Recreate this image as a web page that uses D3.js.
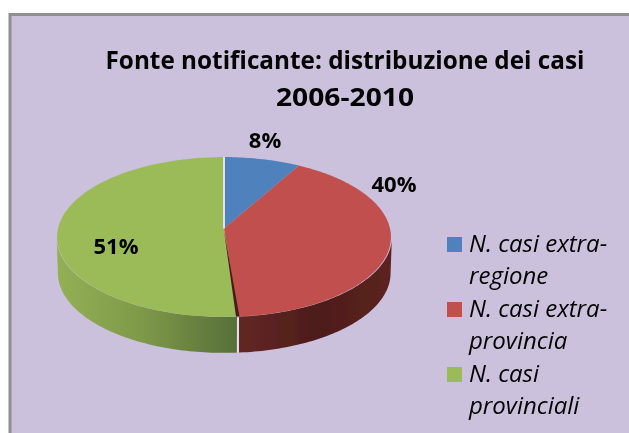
<!DOCTYPE html>
<html><head><meta charset="utf-8">
<script src="https://cdn.jsdelivr.net/npm/d3@7"></script>
<style>html,body{margin:0;padding:0;background:#fff}svg{display:block}</style>
</head><body><script>
const categories=["N. casi extra-regione","N. casi extra-provincia","N. casi provinciali"];
const values=[8.2,40.6,51.2];
const valueLabels=["8%","40%","51%"];
const topColors=["#4f81bd","#c0504d","#9bbb59"];
const legendLines=[["N. casi extra-","regione"],["N. casi extra-","provincia"],["N. casi","provinciali"]];
const titleLines=["Fonte notificante: distribuzione dei casi","2006-2010"];

const W=629,H=433;
const svg=d3.select("body").append("svg").attr("width",W).attr("height",H);
const defs=svg.append("defs");
defs.append("filter").attr("id","soft").append("feGaussianBlur").attr("stdDeviation",0.5);
const grad=(id,stops)=>{const g=defs.append("linearGradient").attr("id",id).attr("gradientUnits","userSpaceOnUse")
  .attr("x1",56).attr("x2",390).attr("y1",0).attr("y2",0);
  stops.forEach(s=>g.append("stop").attr("offset",s[0]).attr("stop-color",s[1]));};
grad("gGreen",[[0,"#94b055"],[0.25,"#7f9a49"],[0.54,"#57703a"],[1,"#57703a"]]);
grad("gRed",[[0.54,"#642725"],[0.78,"#4e1d1b"],[1,"#5c2220"]]);

svg.append("rect").attr("x",10).attr("y",14.5).attr("width",W).attr("height",H)
  .attr("fill","#cbc1dc").attr("stroke","#8f8f8f").attr("stroke-width",3);

const F='"Open Sans",sans-serif';
const g=svg.append("g").attr("filter","url(#soft)");

g.selectAll(".t").data(titleLines).join("text").attr("class","t")
  .attr("x",345).attr("y",(d,i)=>69+i*37).attr("text-anchor","middle")
  .attr("font-family",F).attr("font-weight",700).attr("font-size",25)
  .attr("textLength",(d,i)=>i?138:479).attr("lengthAdjust","spacingAndGlyphs")
  .attr("fill","#000").text(d=>d);

// tilted disc: perspective projection of the unit circle
const cx=224,cy=228.5,rx=166,ry=79,persp=0.106,depth=36,shrink=0.992;
const proj=(a,r=1)=>{const u=r*Math.sin(a),v=-r*Math.cos(a),w=1-persp*v;
  return [cx+rx*u/w,cy+ry*v/w];};
const low=p=>[cx+(p[0]-cx)*shrink,p[1]+depth];
const line=d3.line();
const samples=(a0,a1)=>d3.range(a0,a1,0.02).concat([a1]);
const arcs=d3.pie().sort(null)(values);
const side=[null,"url(#gRed)","url(#gGreen)"];
const wallDx=[0,1,-0.5];

arcs.forEach((d,i)=>{
  if(!side[i])return;
  const a0=Math.max(d.startAngle,Math.PI/2+0.15),a1=Math.min(d.endAngle,Math.PI*1.5-0.15);
  const up=samples(a0,a1).map(a=>proj(a));
  const pts=up.concat(up.slice().reverse().map(low)).map(p=>[p[0]+wallDx[i],p[1]]);
  g.append("path").attr("d",line(pts)+"Z").attr("fill",side[i]);
});
g.selectAll(".face").data(arcs).join("path").attr("class","face")
  .attr("d",d=>line([[cx,cy]].concat(samples(d.startAngle,d.endAngle).map(a=>proj(a))))+"Z")
  .attr("fill",(d,i)=>topColors[i]);

const e=arcs[1].endAngle,pe=proj(e);
g.append("path").attr("d",line([[cx,cy+2],[pe[0]-2,pe[1]],[pe[0]+1.5,pe[1]]])+"Z").attr("fill","#4a1c1a");
g.append("path").attr("d",line([[pe[0],pe[1]+1],low(pe)]))
  .attr("fill","none").attr("stroke","#e4e0ea").attr("stroke-width",2);
g.append("path").attr("d",line([[cx,cy],proj(arcs[0].startAngle)]))
  .attr("fill","none").attr("stroke","#e4e0ea").attr("stroke-width",2);

const lblPos=[[265,148],[394,192],[116,254]];
g.selectAll(".v").data(valueLabels).join("text").attr("class","v")
  .attr("x",(d,i)=>lblPos[i][0]).attr("y",(d,i)=>lblPos[i][1]).attr("text-anchor","middle")
  .attr("font-family",F).attr("font-weight",700).attr("font-size",22).attr("fill","#000").text(d=>d);

const leg=g.selectAll(".l").data(legendLines).join("g").attr("class","l")
  .attr("transform",(d,i)=>`translate(447,${237+i*65})`);
leg.append("rect").attr("width",15).attr("height",15).attr("fill",(d,i)=>topColors[i]);
leg.selectAll("text").data(d=>d).join("text").attr("x",22).attr("y",(d,i)=>15+i*32)
  .attr("font-family",F).attr("font-style","italic").attr("font-size",24).attr("fill","#000").text(d=>d);
</script></body></html>
